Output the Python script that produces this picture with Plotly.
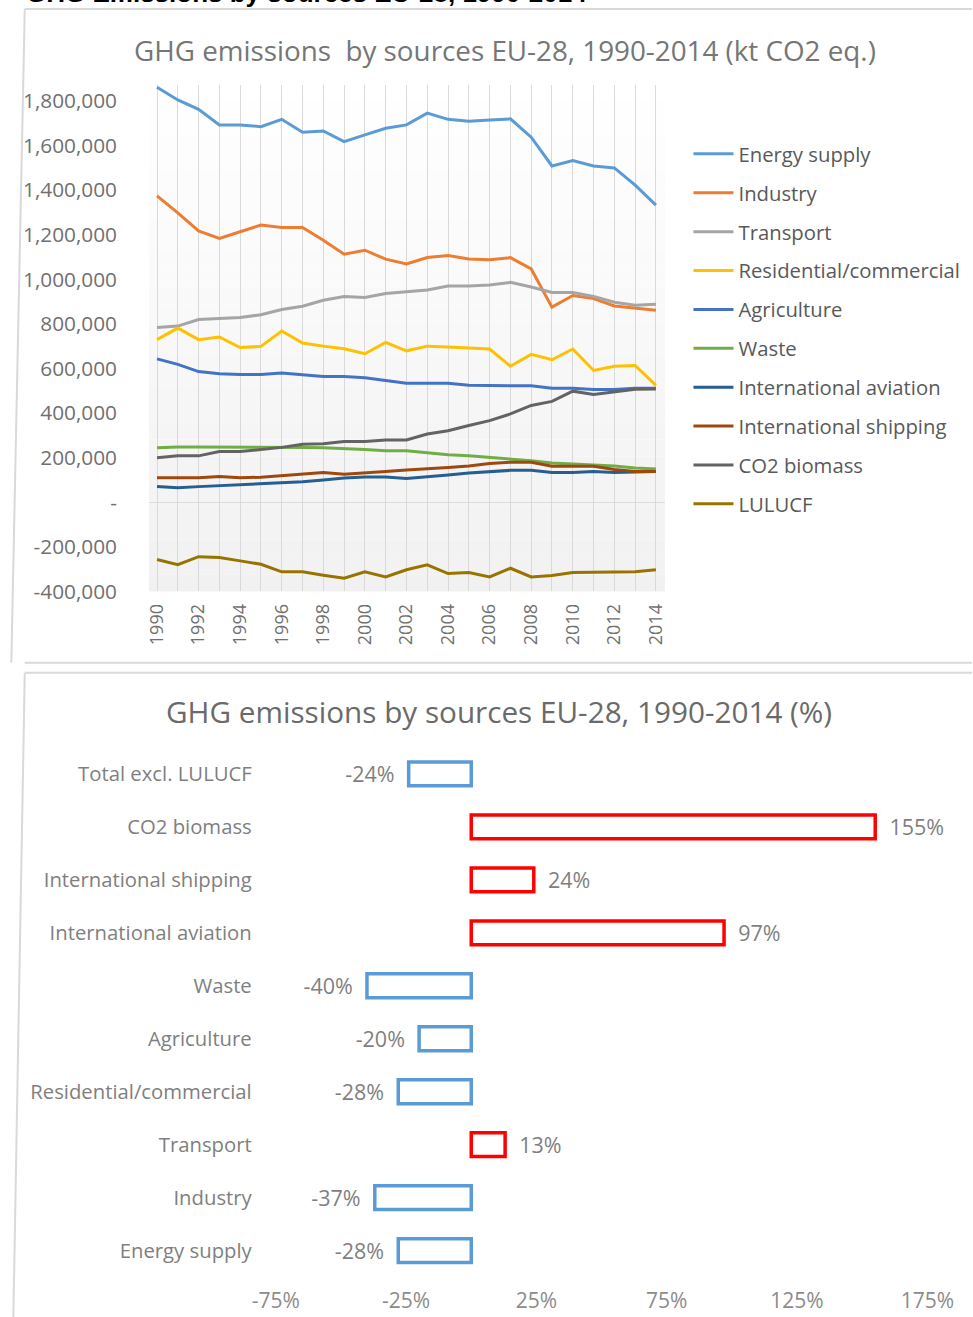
import plotly.graph_objects as go

# Positions below are given in reference-image pixels (973 x 1317) and
# mapped onto the page through the measured capture transform.
OX, SXC, SYC = 22.7, 0.951, 0.989
W, H = 999, 1332

# ---------------- DATA ----------------
years = list(range(1990, 2015))

energy_supply = [1861000, 1804000, 1762000, 1692000, 1692000, 1684000, 1717000, 1659000, 1665000, 1617000,
                 1647000, 1677000, 1692000, 1745000, 1717000, 1708000, 1714000, 1719000, 1637000, 1508000,
                 1532000, 1508000, 1499000, 1422000, 1332000]
industry = [1374000, 1298000, 1217000, 1183000, 1213000, 1243000, 1232000, 1232000, 1175000, 1112000,
            1130000, 1090000, 1069000, 1097000, 1106000, 1091000, 1087000, 1097000, 1046000, 875000,
            927000, 913000, 880000, 870000, 861000]
transport = [784000, 790000, 819000, 823000, 828000, 841000, 864000, 879000, 906000, 923000,
             918000, 936000, 945000, 952000, 970000, 970000, 974000, 986000, 965000, 941000,
             941000, 923000, 897000, 883000, 888000]
residential = [729000, 781000, 729000, 741000, 694000, 699000, 768000, 714000, 700000, 688000,
               666000, 717000, 679000, 700000, 696000, 691000, 687000, 610000, 663000, 639000,
               687000, 591000, 610000, 613000, 524000]
agriculture = [643000, 618000, 586000, 576000, 573000, 573000, 579000, 573000, 564000, 564000,
               558000, 546000, 534000, 534000, 534000, 525000, 522000, 522000, 522000, 511000,
               511000, 506000, 506000, 511000, 511000]
waste = [244000, 248000, 248000, 248000, 248000, 247000, 246000, 245000, 244000, 242000,
         237000, 231000, 231000, 222000, 213000, 208000, 201000, 194000, 186000, 176000,
         172000, 169000, 163000, 154000, 149000]
intl_aviation = [71000, 65000, 70000, 74000, 77000, 82000, 88000, 92000, 100000, 109000,
                 113000, 113000, 107000, 113000, 122000, 131000, 137000, 143000, 143000, 133000,
                 133000, 138000, 133000, 137000, 138000]
intl_shipping = [110000, 110000, 110000, 115000, 110000, 112000, 119000, 127000, 133000, 125000,
                 130000, 138000, 145000, 149000, 156000, 163000, 174000, 179000, 179000, 161000,
                 161000, 161000, 147000, 138000, 138000]
co2_biomass = [199000, 208000, 208000, 227000, 227000, 235000, 246000, 260000, 262000, 272000,
               272000, 279000, 279000, 306000, 321000, 344000, 366000, 396000, 434000, 452000,
               498000, 483000, 494000, 507000, 508000]
lulucf = [-257000, -280000, -244000, -248000, -263000, -278000, -312000, -312000, -327000, -341000,
          -312000, -335000, -303000, -281000, -320000, -315000, -335000, -296000, -335000, -329000,
          -315000, -315000, -312000, -312000, -303000]

series_names = ["Energy supply", "Industry", "Transport", "Residential/commercial", "Agriculture",
                "Waste", "International aviation", "International shipping", "CO2 biomass", "LULUCF"]
series_values = [energy_supply, industry, transport, residential, agriculture,
                 waste, intl_aviation, intl_shipping, co2_biomass, lulucf]
series_colors = ["#5B9BD5", "#ED7D31", "#A5A5A5", "#FFC000", "#4472C4",
                 "#70AD47", "#255E91", "#9E480E", "#636363", "#997300"]

y_tick_vals = [-400000, -200000, 0, 200000, 400000, 600000, 800000, 1000000, 1200000, 1400000, 1600000, 1800000]
y_tick_text = ["-400,000", "-200,000", "-", "200,000", "400,000", "600,000", "800,000",
               "1,000,000", "1,200,000", "1,400,000", "1,600,000", "1,800,000"]
x_tick_text = [str(y) if y % 2 == 0 else "" for y in years]

bar_categories = ["Total excl. LULUCF", "CO2 biomass", "International shipping", "International aviation",
                  "Waste", "Agriculture", "Residential/commercial", "Transport", "Industry", "Energy supply"]
bar_values = [-24, 155, 24, 97, -40, -20, -28, 13, -37, -28]
pct_tick_vals = [-75, -25, 25, 75, 125, 175]
pct_tick_text = ["-75%", "-25%", "25%", "75%", "125%", "175%"]

# ---------------- HELPERS ----------------
def px_x(p):
    return ((p - OX) / SXC) / W

def px_y(p):
    return 1 - (p / SYC) / H

FONT = "Open Sans"
fig = go.Figure()

# ---------------- LINE CHART ----------------
for name, vals, col in zip(series_names, series_values, series_colors):
    fig.add_trace(go.Scatter(
        x=years, y=vals, name=name, mode="lines",
        line=dict(color=col, width=3),
        legendgroup=name, xaxis="x", yaxis="y",
    ))

# ---------------- BAR CHART ----------------
bar_line_colors = ["#FF0000" if v > 0 else "#5B9BD5" for v in bar_values]
bar_labels = [("\u00a0\u00a0" + f"{v}%") if v > 0 else (f"{v}%" + "\u00a0\u00a0") for v in bar_values]
fig.add_trace(go.Bar(
    x=bar_values, y=bar_categories, orientation="h",
    marker=dict(color="rgba(255,255,255,0)", line=dict(color=bar_line_colors, width=3.5)),
    text=bar_labels, texttemplate="%{text}", textposition="outside", cliponaxis=False,
    constraintext="none",
    textfont=dict(family=FONT, size=21.5, color="#7f7f7f"),
    showlegend=False, xaxis="x2", yaxis="y2", hoverinfo="skip",
))

# ---------------- LAYOUT ----------------
top_plot_top, top_plot_bot = 85, 590.7
top_left, top_right = 148, 665
yrange_top = 1800000 + (100.7 - top_plot_top) * 4490

shapes = []
# gradient background of the plot area (white at top -> light grey at bottom)
n = 30
for i in range(n):
    frac = 1 - (i + 0.5) / n  # 1 at bottom, 0 at top
    g = int(round(255 - (255 - 241) * frac))
    shapes.append(dict(type="rect", xref="x domain", yref="y domain",
                       x0=0, x1=1, y0=i / n, y1=(i + 1) / n,
                       fillcolor=f"rgb({g},{g},{g})", line=dict(width=0), layer="below"))

# chart frames
def frame_line(x0, y0, x1, y1):
    return dict(type="line", xref="paper", yref="paper",
                x0=max(px_x(x0), 0.0008), x1=min(px_x(x1), 1), y0=px_y(y0), y1=max(px_y(y1), 0),
                line=dict(color="#d9d9d9", width=2), layer="below")

shapes += [
    frame_line(10, 9, 973, 9), frame_line(10, 9, 10, 662), frame_line(10, 662, 973, 662),
    frame_line(12, 672, 973, 672), frame_line(12, 672, 12, 1317),
]

annotations = [
    dict(text="GHG Emissions by sources EU-28, 1990-2014", xref="paper", yref="paper",
         x=0, y=px_y(-7), xanchor="left", yanchor="middle", showarrow=False,
         font=dict(family="Liberation Sans", size=26, color="#000000", weight="bold")),
    dict(text="GHG emissions\u00a0 by sources EU-28, 1990-2014 (kt CO2 eq.)", xref="paper", yref="paper",
         x=px_x(505), y=px_y(50), xanchor="center", yanchor="middle", showarrow=False,
         font=dict(family=FONT, size=27.8, color="#767676")),
    dict(text="GHG emissions by sources EU-28, 1990-2014 (%)", xref="paper", yref="paper",
         x=px_x(499), y=px_y(711), xanchor="center", yanchor="middle", showarrow=False,
         font=dict(family=FONT, size=29.7, color="#6a6a6a")),
]

fig.update_layout(
    width=W, height=H, margin=dict(l=0, r=0, t=0, b=0), autosize=False,
    paper_bgcolor="white", plot_bgcolor="rgba(0,0,0,0)",
    font=dict(family=FONT, color="#707070"),
    shapes=shapes, annotations=annotations,
    showlegend=True,
    legend=dict(x=px_x(688.6), y=px_y(134), xanchor="left", yanchor="top",
                font=dict(family=FONT, size=20.3, color="#595959"),
                tracegroupgap=9.5, bgcolor="rgba(0,0,0,0)", itemwidth=40),
    xaxis=dict(domain=[px_x(top_left), px_x(top_right)],
               range=[1990 - 8 / 20.833, 2014 + 9 / 20.833],
               tickvals=years, ticktext=x_tick_text, tickangle=-90,
               showgrid=True, gridcolor="#d9d9d9", gridwidth=1,
               zeroline=False, showline=False, ticks="",
               tickfont=dict(family=FONT, size=18, color="#707070"),
               ticklabelstandoff=8, anchor="y", fixedrange=True),
    yaxis=dict(domain=[px_y(top_plot_bot), px_y(top_plot_top)],
               range=[-400000, yrange_top],
               tickvals=y_tick_vals, ticktext=y_tick_text,
               showgrid=False, zeroline=True, zerolinecolor="#dcdcdc", zerolinewidth=1,
               showline=False, ticks="",
               tickfont=dict(family=FONT, size=20.8, color="#707070"),
               ticklabelstandoff=31, anchor="x", fixedrange=True),
    xaxis2=dict(domain=[px_x(275), px_x(928)], range=[-75, 175],
                tickvals=pct_tick_vals, ticktext=pct_tick_text,
                showgrid=False, zeroline=False, showline=False, ticks="",
                tickfont=dict(family=FONT, size=21, color="#8c8c8c"),
                ticklabelstandoff=9, anchor="y2", fixedrange=True),
    yaxis2=dict(domain=[px_y(1275.5), px_y(746.5)], autorange="reversed",
                type="category", showgrid=False, zeroline=False, showline=False, ticks="",
                tickfont=dict(family=FONT, size=20.3, color="#7f7f7f"),
                ticklabelstandoff=23, anchor="x2", fixedrange=True),
    bargap=0.55,
)

fig.write_html(
    "out.html",
    config={"displayModeBar": False, "responsive": False},
    post_script="document.body.style.margin='0';document.body.style.overflow='hidden';"
                "document.documentElement.style.overflow='hidden';",
)
